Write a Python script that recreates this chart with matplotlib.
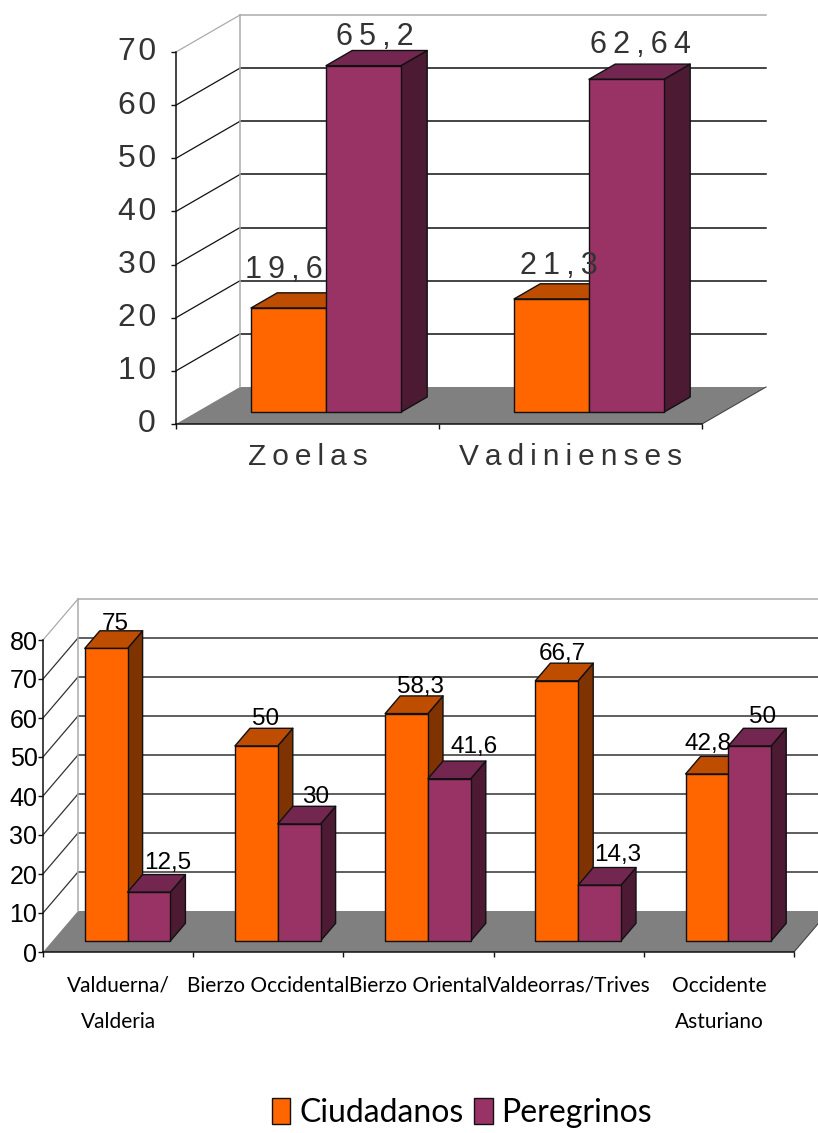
#!/usr/bin/env python3
# -*- coding: utf-8 -*-
"""plot.py - two Excel style 3D column charts drawn with plain matplotlib axes"""
import matplotlib
matplotlib.use("Agg")
import matplotlib.pyplot as plt
from matplotlib.patches import Polygon, Patch
from matplotlib.transforms import ScaledTranslation

W, H = 818, 1133
THIN = "\u2009"
HAIR = "\u200a"
TIGHT = ["Lato", "Liberation Sans", "DejaVu Sans"]
WIDE = ["Liberation Sans", "DejaVu Sans"]

# data
series_names = ["Ciudadanos", "Peregrinos"]

pueblos = ["Zoelas", "Vadinienses"]
pueblos_ciudadanos = [19.6, 21.3]
pueblos_peregrinos = [65.2, 62.64]
pueblos_ticks = [0, 10, 20, 30, 40, 50, 60, 70]

zonas = ["Valduerna/\nValderia", "Bierzo Occidental", "Bierzo Oriental",
         "Valdeorras/Trives", "Occidente\nAsturiano"]
zonas_ciudadanos = [75, 50, 58.3, 66.7, 42.8]
zonas_peregrinos = [12.5, 30, 41.6, 14.3, 50]
zonas_ticks = [0, 10, 20, 30, 40, 50, 60, 70, 80]

# face, top, side
ORANGE = ("#FF6600", "#BF4D00", "#7F3300")
PURPLE = ("#993366", "#732650", "#4D1A33")
FLOOR = "#808080"
WALL = "#ABABAB"


def spaced(s, sep=THIN):
    return sep.join(s)


def comma(v):
    return str(v).replace(".", ",")


def make_axes(fig, left, right, y_bottom, y_top):
    # pixel box of the front plane -> figure fractions
    return fig.add_axes([left / W, 1 - y_bottom / H, (right - left) / W, (y_bottom - y_top) / H])


def draw_chart(ax, cats, vals_a, vals_b, ticks, depth_px, bar_from, bar_to, bar_shift,
               tick_font, cat_font, label_font, text_color, grid_color, nudges,
               ytick_pad, xtick_pad, ytick_lift, spacing=False):
    n = len(cats)
    ymax = ticks[-1]
    ax.set_xlim(0, n)
    ax.set_ylim(0, ymax)
    ax.patch.set_visible(False)
    for s in ("top", "right"):
        ax.spines[s].set_visible(False)

    bbox = ax.get_position()
    px_x = bbox.width * W / n
    px_y = bbox.height * H / ymax
    DX = depth_px[0] / px_x
    DY = depth_px[1] / px_y

    def proj(x, v, d):
        return (x + d * DX, v + d * DY)

    def poly(points, color, edge="none", lw=1.0, z=1):
        ax.add_patch(Polygon(points, closed=True, facecolor=color, edgecolor=edge,
                             linewidth=lw, clip_on=False, zorder=z, joinstyle="round"))

    def line(p, q, color, lw=1.1, z=1.5):
        ax.plot([p[0], q[0]], [p[1], q[1]], color=color, lw=lw, clip_on=False, zorder=z)

    # floor
    poly([proj(0, 0, 0), proj(n, 0, 0), proj(n, 0, 1), proj(0, 0, 1)], FLOOR)
    line(proj(n, 0, 0), proj(n, 0, 1), "#444444", lw=0.8)

    # walls
    for t in ticks[1:]:
        c = WALL if t == ymax else grid_color
        line(proj(0, t, 1), proj(n, t, 1), c)
        line(proj(0, t, 0), proj(0, t, 1), c, lw=0.9)
    line(proj(0, 0, 1), proj(0, ymax, 1), WALL)

    # columns
    bw = 0.285
    for i in range(n):
        x0 = i + 0.5 - bw + bar_shift / px_x
        for k, (vals, cols) in enumerate(((vals_a, ORANGE), (vals_b, PURPLE))):
            v = vals[i]
            xa, xb = x0 + k * bw, x0 + (k + 1) * bw
            z = 3 + i + k * 0.1
            poly([proj(xb, 0, bar_from), proj(xb, 0, bar_to), proj(xb, v, bar_to), proj(xb, v, bar_from)],
                 cols[2], "#111111", 1.0, z)
            poly([proj(xa, v, bar_from), proj(xb, v, bar_from), proj(xb, v, bar_to), proj(xa, v, bar_to)],
                 cols[1], "#111111", 1.0, z)
            poly([(xa + bar_from * DX, bar_from * DY), (xb + bar_from * DX, bar_from * DY),
                  (xb + bar_from * DX, v + bar_from * DY), (xa + bar_from * DX, v + bar_from * DY)],
                 cols[0], "#111111", 1.0, z)
            txt = comma(v)
            if spacing:
                txt = spaced(txt)
            nx, ny = nudges[k][i]
            ax.annotate(txt, xy=proj((xa + xb) / 2, v, bar_to), xytext=(nx * 0.72, ny * 0.72),
                        textcoords="offset points", ha="center", va="baseline",
                        fontsize=label_font, family=WIDE,
                        color=text_color, annotation_clip=False, zorder=20)

    # axes: ticks and labels from the library
    ax.set_yticks(ticks)
    ax.set_yticklabels([spaced(str(t), HAIR) if spacing else str(t) for t in ticks],
                       fontsize=tick_font, family=WIDE, color=text_color)
    ax.set_xticks(range(n + 1))
    ax.set_xticklabels([])
    ax.set_xticks([i + 0.5 for i in range(n)], minor=True)
    ax.set_xticklabels([spaced(c) if spacing else c for c in cats], minor=True, fontsize=cat_font,
                       family=WIDE if spacing else TIGHT, color=text_color,
                       linespacing=1.22 if spacing else 2.0, va="top")
    ax.tick_params(axis="both", which="major", length=3.5, width=1.0, color="#111111")
    ax.tick_params(axis="x", which="minor", length=0, pad=xtick_pad)
    ax.tick_params(axis="y", pad=ytick_pad)
    lift = ScaledTranslation(0, ytick_lift / 100, ax.figure.dpi_scale_trans)
    for lab in ax.get_yticklabels():
        lab.set_transform(lab.get_transform() + lift)
    for s in ("left", "bottom"):
        ax.spines[s].set_linewidth(1.1)
        ax.spines[s].set_color("#111111")
        ax.spines[s].set_zorder(2)


fig = plt.figure(figsize=(W / 100, H / 100), dpi=100)

ax1 = make_axes(fig, 176, 702, 424, 52)
draw_chart(ax1, pueblos, pueblos_ciudadanos, pueblos_peregrinos, pueblos_ticks,
           (64, 37), 0.32, 0.73, -2, 23, 21.5, 22, "#333333", "#111111",
           [[(-31, 15), (-19, 10)], [(-15, 5), (-12, 11)]],
           ytick_pad=11, xtick_pad=14, ytick_lift=3, spacing=True)

ax2 = make_axes(fig, 43, 794, 952, 640)
draw_chart(ax2, zonas, zonas_ciudadanos, zonas_peregrinos, zonas_ticks,
           (35, 41), 0.27, 0.70, 0, 18, 15, 17.5, "#000000", "#333333",
           [[(-6, 1), (-6, 3), (-1, 3), (-9, 3), (-14, 6)],
            [(4, 6), (1, 3), (10, 8), (3, 7), (-2, 5)]],
           ytick_pad=0.5, xtick_pad=17, ytick_lift=0)

handles = [Patch(facecolor=ORANGE[0], edgecolor="#111111", linewidth=1.0),
           Patch(facecolor=PURPLE[0], edgecolor="#111111", linewidth=1.0)]
fig.legend(handles, series_names, ncol=2, frameon=False, loc="center",
           bbox_to_anchor=(462 / W, 1 - 1113 / H), handlelength=0.58, handleheight=0.88,
           handletextpad=0.28, columnspacing=0.33, borderpad=0,
           prop={"family": TIGHT, "size": 23})

fig.savefig("out.png", dpi=100)
plt.close(fig)
